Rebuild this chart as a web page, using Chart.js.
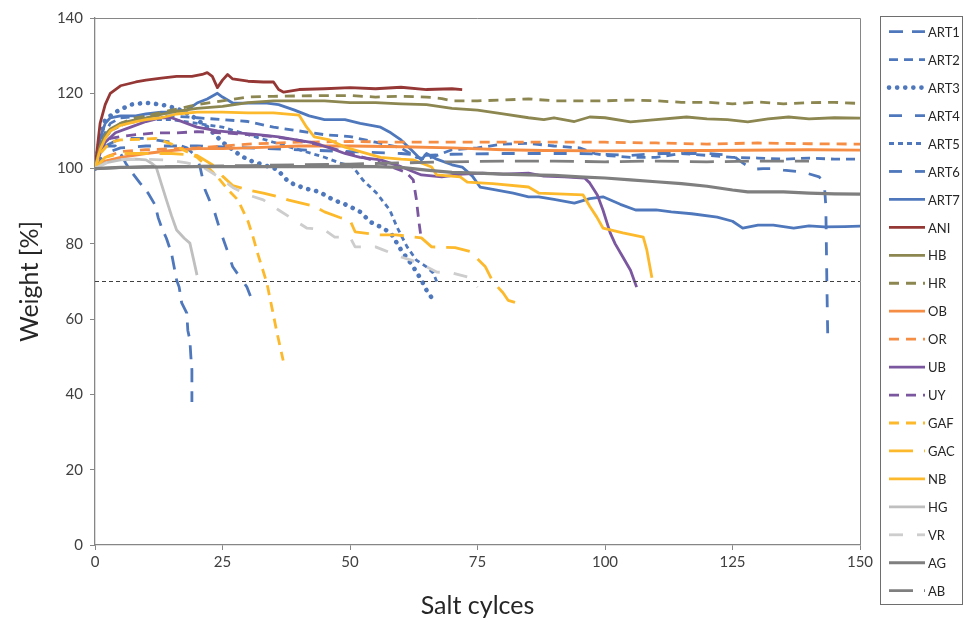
<!DOCTYPE html>
<html>
<head>
<meta charset="utf-8">
<script src="https://cdn.jsdelivr.net/npm/chart.js@4.4.1/dist/chart.umd.min.js"></script>
<style>
  html, body { margin: 0; padding: 0; background: #fff; }
  #wrap { width: 964px; height: 626px; }
</style>
</head>
<body>
<div id="wrap"><canvas id="weightChart"></canvas></div>
<script>
// ---- data: [salt cycle, weight %] ----
const seriesNames = ['ART1', 'ART2', 'ART3', 'ART4', 'ART5', 'ART6', 'ART7', 'ANI', 'HB', 'HR',
  'OB', 'OR', 'UB', 'UY', 'GAF', 'GAC', 'NB', 'HG', 'VR', 'AG', 'AB'];

const ART1 = [[0,100],[1,105],[2,106],[4,106],[5,104],[6,101.5],[6.9,99.6],[8.8,96.2],[10.4,93.5],[11.8,90.3],
  [12.4,86.9],[13.1,84.2],[14,81.5],[15,77.5],[16,70.4],[16.5,68.5],[17,64.3],[18,61.6],[18.2,57],[18.6,54.5],
  [18.8,50],[19,46.5],[19,38]];
const ART2 = [[0,100],[1,107],[3,112],[5,113.5],[10,114],[15,114],[20,113.5],[25,113],[30,112.5],[35,111],
  [40,110],[45,109],[50,108.5],[55,107],[60,105.5],[63,103],[65,102.5],[68,104],[70,105],[75,105.5],[80,106.5],
  [85,106.7],[90,106],[95,105.5],[98,104],[100,103.5],[105,103],[110,103],[115,104],[120,103.5],[125,103],
  [130,102.8],[135,102.5],[140,102.8],[145,102.5],[150,102.5]];
const ART3 = [[0,100],[1,108],[2,113],[4,115],[7,117],[10,117.5],[13,117],[16,116],[19,114],[22,111],[25,107],
  [28,104],[30,102.3],[33,101],[35.7,99.8],[38,96.4],[41,94.8],[44,93.8],[46.7,91.7],[49.4,90.3],[52,88.5],
  [54,85.8],[56,84.5],[58,82.9],[60,78.4],[62.4,73.9],[64,70.4],[65,67.7],[66.7,64.3]];
const ART4 = [[0,100],[2,104],[5,105.5],[10,106],[20,106],[30,105.5],[40,105],[50,104.5],[60,104],[65,103.5],
  [70,103.8],[80,104],[90,104],[95,104],[100,103.8],[105,103.5],[110,104],[115,104],[120,104],[125,103.5],
  [127,101.5],[129,99.8],[131,100],[133,100],[135,99.6],[139,99],[142,97.8],[143,96],[143.3,90],[143.5,70],[143.7,53.5]];
const ART5 = [[0,100],[1,106],[3,110],[6,112],[10,113],[15,113],[20,112],[25,111],[30,109],[35,107],[40,105],
  [45,103],[48,101.5],[50.6,100.4],[52.5,97],[55.2,93.5],[57.8,89],[59.2,84.5],[61.2,79.2],[63,75.7],[65,73.9],
  [66.3,72.3],[67,70]];
const ART6 = [[0,100],[2,106],[5,108],[10,108],[15,107],[18,105.5],[20,103],[20.6,100.4],[21.6,94.3],[23.5,88.2],
  [24.5,83.7],[25.9,78.4],[27,73.9],[29.8,68.5],[31,64.3]];
const ART7 = [[0,100],[1,108],[2,112],[3,113.5],[5,114],[8,114],[10,114.5],[13,115],[16,115],[18,115.5],[20,117.4],
  [22,118.5],[24,120],[25,119],[27,117.4],[30,117.4],[33.7,117.4],[36,117],[39,115.6],[42,114],[45,113],[49,113],
  [52,112],[56,111],[58,109.5],[60,107.6],[62,105],[64,102.3],[65,104],[67,102.5],[70,101],[72,100.4],[74,98],
  [75.5,95.1],[78,94.5],[82,93.5],[85,92.5],[87,92.5],[90,91.8],[94,90.8],[97,92],[99.6,92.5],[103,90.5],[106,89],
  [110,89],[113,88.5],[117,88],[122,87.1],[125,86],[127,84.2],[130,85],[133,85],[137,84.2],[140,84.8],[143,84.5],
  [147,84.6],[150,84.7]];
const ANI = [[0,100],[0.5,106],[1,112],[2,117],[3,120],[5,122],[8,123],[10,123.5],[13,124],[16,124.5],[19,124.5],
  [21,125],[22,125.5],[23,124.5],[24,121.5],[25,123.5],[26,125],[27,123.8],[30,123.2],[33,123],[35,123],[36,121],
  [37,120.3],[40,121],[45,121.2],[50,121.5],[55,121.2],[60,121.6],[65,121],[70,121.2],[72,121]];
const HB = [[0,100],[1,106],[2,109],[3,110.5],[5,112],[8,113],[10,113.5],[15,115],[20,116],[25,116.5],[30,117.5],
  [35,118],[40,118],[45,118],[50,117.5],[55,117.5],[60,117.2],[65,117],[70,116],[75,115.5],[80,114.5],[85,113.5],
  [88,113],[90,113.5],[94,112.5],[97,113.7],[100,113.5],[105,112.4],[110,113],[116,113.7],[120,113.2],[124,113],
  [128,112.4],[132,113.2],[136,113.7],[140,113.2],[145,113.5],[150,113.4]];
const HR = [[0,100],[1,105],[2,108],[3,110],[5,112],[8,113.5],[10,114],[15,115.5],[20,117],[25,118],[30,119],
  [35,119.2],[40,119.3],[45,119.4],[50,119.4],[55,119],[60,119.2],[65,119],[68,118.6],[70,118],[75,118],[80,118.2],
  [85,118.5],[90,118],[95,118],[100,118],[105,118.2],[110,118],[115,117.6],[120,117.6],[125,117.2],[130,117.7],
  [135,117.2],[140,117.5],[145,117.6],[150,117.3]];
const OB = [[0,100],[2,102],[5,103],[10,104],[15,104.8],[20,105.3],[25,105.3],[30,105.5],[40,106],[50,106],
  [60,105.8],[70,105.5],[80,105],[88,104.8],[100,104.7],[120,104.8],[140,105],[150,104.9]];
const OR = [[0,100],[2,103],[5,104.5],[10,105],[20,105.5],[30,106.5],[40,107],[50,107.2],[60,107],[70,107],
  [80,107],[90,107],[100,107],[110,106.8],[120,106.5],[130,106.8],[140,106.6],[150,106.5]];
const UB = [[0,100],[1,104],[2,107],[4,109.5],[7,111],[10,112.5],[13,113.5],[15,113.5],[18,112],[20,111],[24,110],
  [28,109.5],[32,109],[36,108.4],[40,107.5],[43,106.8],[46,105.5],[49,104],[52,103],[56,102.3],[60,100.5],[64,98.3],
  [68,97.8],[72,98.5],[76,98.8],[80,98.5],[85,98.8],[88,98],[92,97.8],[96,97.5],[97,96.2],[98.5,93],[99.6,89],
  [101,83],[102,80],[103.5,76.5],[105,73],[106.2,68.5]];
const UY = [[0,100],[1,105],[2,107],[3,108],[5,108.5],[8,109],[12,109.5],[16,109.5],[20,109.8],[25,109.5],[30,109],
  [35,108.5],[40,107.5],[45,106],[50,104],[55,102],[58,100.5],[61,99],[62.4,97],[63,92],[63.5,86],[64,81]];
const GAF = [[0,100],[1,104],[3,107],[5,107.6],[9,107.8],[12,108],[15,106.5],[18,104.5],[20,103],[22,100.5],
  [24,97.8],[26,94.5],[28,91.7],[30,86],[31,81.8],[32,77],[33.7,69.6],[34.7,63],[35.7,56.3],[36.9,49]];
const GAC = [[0,100],[2,103],[5,104],[10,104],[15,104],[20,103.5],[23,101],[25,98],[27,95.5],[30,94.3],[33,93.5],
  [36,92.5],[38,91.6],[43,90],[45,88.5],[48,87],[50,86.3],[51,83.2],[55.5,82.4],[59,82.4],[64,81.6],[66,79.2],
  [70.6,79],[73.5,78],[75,76],[76.5,74],[78,70],[80,67],[81,65],[84,63.8]];
const NB = [[0,100],[1,105],[2,108],[3,110],[5,111.5],[8,112.5],[10,113],[13,113.5],[16,114.5],[20,115],[25,115],
  [30,114.8],[35,114.8],[40,114.2],[41.5,111],[43,108.4],[46,107.6],[49,105.7],[52,104.5],[56,103],[60,102.5],
  [62.4,102.3],[66,100.4],[67,98.3],[71.6,97.8],[73,96.4],[78,96],[85,95.1],[87,93.5],[92,93.2],[95.7,93],[97,90],
  [98.4,87.1],[99.6,84.2],[103.5,82.9],[107.5,81.8],[108.2,78.4],[109.2,71]];
const HG = [[0,100],[2,101.5],[5,102.3],[8,102.5],[10,102.3],[11,101.5],[12,100.4],[13,96],[14,91.7],[15,87.5],
  [16,83.7],[17.5,81.5],[18.6,80.2],[19.3,76],[20,71.7]];
const VR = [[0,100],[3,102],[6,102.5],[10,102.5],[14,102.3],[18,101.5],[21,100.5],[24,98],[27,95],[30,93],[33,91.7],
  [36,89],[40,85.5],[41.5,84.2],[45,83.7],[47,81.8],[50,81.8],[51,79.2],[55,79.2],[56.5,78.4],[60,76.5],[62,75.7],
  [65,73.9],[67,72.5],[70,72.3],[73,71.2],[75,68.5]];
const AG = [[0,100],[5,100.3],[10,100.4],[20,100.5],[30,100.5],[40,100.5],[50,100.6],[55,100.5],[60,100.3],[65,99.6],
  [70,99],[75,98.8],[80,98.5],[85,98.3],[90,98.2],[95,97.8],[100,97.5],[105,97],[110,96.5],[115,96],[120,95.3],
  [125,94.3],[128,93.8],[135,93.8],[140,93.5],[145,93.3],[150,93.2]];
const AB = [[0,100],[10,100.5],[20,100.6],[30,100.8],[40,101],[50,101.2],[60,101.5],[70,101.8],[80,102],[90,102],
  [100,101.8],[110,102],[120,101.8],[130,102],[140,102]];

const limitLine = [[0,70],[150,70]];   // 70 % threshold
const xTicks = [0, 25, 50, 75, 100, 125, 150];
const yTicks = [0, 20, 40, 60, 80, 100, 120, 140];

const seriesValues = [ART1, ART2, ART3, ART4, ART5, ART6, ART7, ANI, HB, HR, OB, OR, UB, UY, GAF, GAC, NB, HG, VR, AG, AB];

// ---- line styles (Excel-like) ----
const blue = '#4F78BC', olive = '#8C8650', orange = '#F58D45', purple = '#7B57A0', gold = '#FDB92C';
const styles = {
    ART1: {color: blue, dash: [14, 9]},
    ART2: {color: blue, dash: [9, 6]},
    ART3: {color: blue, dash: [0.1, 8], width: 4.6, cap: 'round'},
    ART4: {color: blue, dash: [13, 13]},
    ART5: {color: blue, dash: [5, 4]},
    ART6: {color: blue, dash: [13, 13]},
    ART7: {color: blue, dash: []},
    ANI: {color: '#953735', dash: []},
    HB: {color: olive, dash: []},
    HR: {color: olive, dash: [10, 7]},
    OB: {color: orange, dash: []},
    OR: {color: orange, dash: [10, 7]},
    UB: {color: purple, dash: []},
    UY: {color: purple, dash: [10, 7]},
    GAF: {color: gold, dash: [10, 7]},
    GAC: {color: gold, dash: [24, 11]},
    NB: {color: gold, dash: []},
    HG: {color: '#BFBFBF', dash: []},
    VR: {color: '#CDCDCD', dash: [14, 14]},
    AG: {color: '#7F7F7F', dash: [], width: 3.2},
    AB: {color: '#7F7F7F', dash: [24, 11]}
};

const toPoints = pairs => pairs.map(p => ({x: p[0], y: p[1]}));

const datasets = seriesNames.map(function(name, i) {
    const s = styles[name];
    return {
        label: name,
        data: toPoints(seriesValues[i]),
        borderColor: s.color,
        backgroundColor: s.color,
        borderWidth: s.width || 2.8,
        borderDash: s.dash,
        borderCapStyle: s.cap || 'butt',
        borderJoinStyle: 'round',
        pointRadius: 0,
        tension: 0,
        fill: false,
        order: 40 - i // later series on top, like Excel
    };
});
datasets.push({
    label: 'limit',
    data: toPoints(limitLine),
    borderColor: '#404040',
    borderWidth: 1,
    borderDash: [4, 3],
    pointRadius: 0,
    fill: false,
    order: 0
});

// plot frame + boxed legend on the right
const frameAndLegend = {
    id: 'frameAndLegend',
    afterDraw(chart) {
        const ctx = chart.ctx;
        const a = chart.chartArea;
        ctx.save();
        ctx.strokeStyle = '#868686';
        ctx.lineWidth = 1;
        ctx.beginPath();
        ctx.moveTo(a.left, a.top + 0.5);
        ctx.lineTo(a.right + 0.5, a.top + 0.5);
        ctx.lineTo(a.right + 0.5, a.bottom);
        ctx.stroke();

        // legend box
        ctx.strokeStyle = '#6E6E6E';
        ctx.strokeRect(880.5, 16.5, 82, 588);
        ctx.font = '13px Lato, "Open Sans", sans-serif';
        ctx.fillStyle = '#262626';
        ctx.textBaseline = 'middle';
        chart.data.datasets.forEach(function(ds, i) {
            if (ds.label === 'limit') return;
            const y = 31.7 + i * 27.95;
            ctx.save();
            ctx.strokeStyle = ds.borderColor;
            ctx.lineWidth = ds.borderWidth;
            ctx.setLineDash(ds.borderDash);
            ctx.lineCap = ds.borderCapStyle;
            ctx.beginPath();
            ctx.moveTo(889, y);
            ctx.lineTo(925, y);
            ctx.stroke();
            ctx.restore();
            ctx.fillText(ds.label, 928, y + 1);
        });
        ctx.restore();
    }
};

const tickFont = {family: 'Lato, "Open Sans", sans-serif', size: 15};
const titleFont = {family: 'Lato, "Open Sans", sans-serif', size: 25};

new Chart('weightChart', {
    type: 'line',
    data: {datasets: datasets},
    options: {
        responsive: true,
        maintainAspectRatio: false,
        animation: false,
        layout: {padding: {top: 18, right: 104, left: 0, bottom: 0}},
        plugins: {
            legend: {display: false},
            tooltip: {enabled: false}
        },
        scales: {
            x: {
                type: 'linear',
                min: 0,
                max: 150,
                afterBuildTicks: s => { s.ticks = xTicks.map(v => ({value: v})); },
                afterFit: s => { s.height = 81; },
                ticks: {font: tickFont, color: '#404040', padding: 3, maxRotation: 0},
                grid: {display: true, drawOnChartArea: false, drawTicks: true, tickLength: 5, color: '#868686'},
                border: {color: '#868686', width: 1.3},
                title: {display: true, text: 'Salt cylces', font: titleFont, color: '#262626', padding: {top: 0, bottom: 5}}
            },
            y: {
                min: 0,
                max: 140,
                afterBuildTicks: s => { s.ticks = yTicks.map(v => ({value: v})); },
                afterFit: s => { s.width = 95; },
                ticks: {font: tickFont, color: '#404040', padding: 7},
                grid: {display: true, drawOnChartArea: false, drawTicks: true, tickLength: 5, color: '#868686'},
                border: {color: '#868686', width: 1.3},
                title: {display: true, text: 'Weight [%]', font: titleFont, color: '#262626', padding: {top: 15, bottom: 0}}
            }
        }
    },
    plugins: [frameAndLegend]
});
</script>
</body>
</html>
